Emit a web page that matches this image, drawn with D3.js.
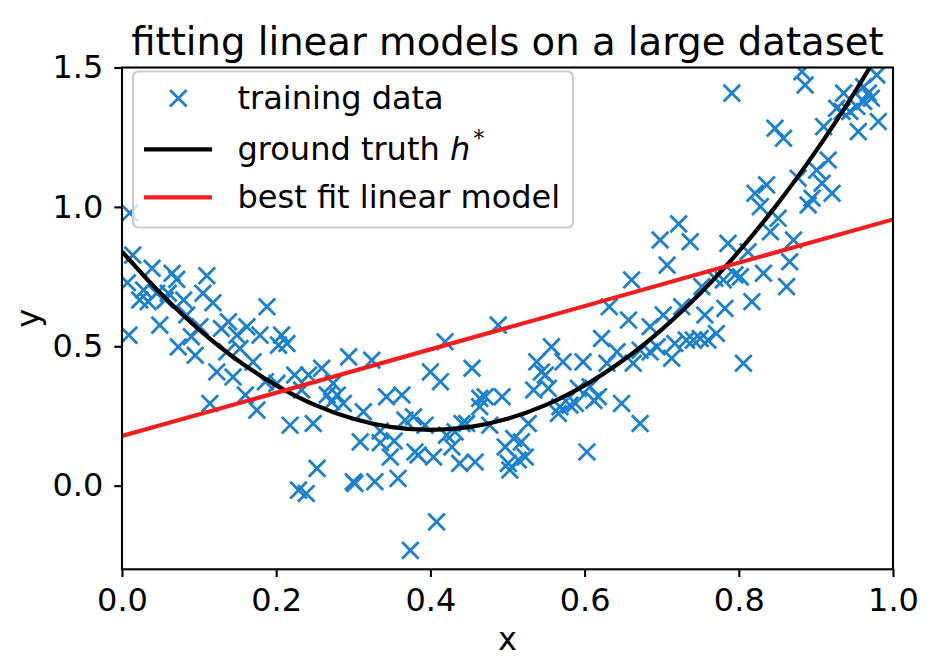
<!DOCTYPE html>
<html><head><meta charset="utf-8">
<script src="https://cdn.jsdelivr.net/npm/d3@7"></script>
<style>body{margin:0;background:#fff} svg{display:block;font-family:"DejaVu Sans",sans-serif}</style>
</head><body><svg id="c" width="932" height="670"></svg>
<script>
const trainX=[0.014,0.039,0.065,0.071,0.110,0.007,0.028,0.023,0.034,0.045,0.056,0.060,0.080,0.105,0.118,0.084,0.049,0.101,0.090,0.009,
0.188,0.138,0.129,0.149,0.162,0.179,0.207,0.214,0.203,0.073,0.095,0.153,0.136,0.170,0.123,0.144,0.186,0.201,0.224,0.242,
0.259,0.294,0.324,0.160,0.114,0.175,0.233,0.274,0.266,0.279,0.287,0.272,0.313,0.218,0.248,0.343,0.363,0.335,0.335,0.353,
0.348,0.367,0.378,0.380,0.384,0.309,0.253,0.229,0.239,0.300,0.302,0.328,0.358,0.374,0.419,0.488,0.632,0.657,0.622,0.557,
0.538,0.572,0.598,0.629,0.642,0.663,0.544,0.549,0.454,0.400,0.413,0.464,0.471,0.493,0.534,0.553,0.592,0.607,0.618,0.612,
0.464,0.568,0.581,0.588,0.566,0.648,0.672,0.393,0.441,0.447,0.477,0.527,0.421,0.432,0.428,0.497,0.508,0.518,0.404,0.438,
0.458,0.501,0.514,0.523,0.503,0.603,0.408,0.672,0.722,0.698,0.737,0.786,0.812,0.841,0.871,0.866,0.707,0.661,0.769,0.780,
0.795,0.802,0.832,0.752,0.862,0.817,0.782,0.756,0.726,0.702,0.685,0.771,0.760,0.750,0.741,0.732,0.717,0.694,0.685,0.713,
0.806,0.882,0.886,0.791,0.936,0.962,0.979,0.968,0.972,0.927,0.934,0.944,0.953,0.962,0.981,0.955,0.910,0.847,0.858,0.916,
0.901,0.877,0.908,0.921,0.895,0.890,0.836,0.821,0.828,0.851,0.010];
const trainY=[0.827,0.780,0.762,0.740,0.753,0.728,0.702,0.666,0.660,0.690,0.666,0.690,0.666,0.690,0.656,0.612,0.576,0.570,0.534,0.540,
0.642,0.588,0.564,0.540,0.570,0.540,0.540,0.510,0.504,0.498,0.468,0.492,0.480,0.444,0.408,0.390,0.373,0.367,0.397,0.397,
0.421,0.462,0.450,0.325,0.295,0.271,0.343,0.367,0.325,0.325,0.295,0.301,0.265,0.217,0.223,0.319,0.325,0.196,0.154,0.160,
0.103,0.235,0.247,0.121,0.110,0.157,0.062,-0.016,-0.028,0.014,0.008,0.014,0.026,-0.232,0.516,0.576,0.642,0.594,0.528,0.498,
0.444,0.444,0.444,0.439,0.480,0.439,0.408,0.397,0.421,0.408,0.373,0.313,0.319,0.319,0.343,0.349,0.349,0.355,0.319,0.306,
0.283,0.283,0.289,0.295,0.259,0.295,0.223,0.217,0.223,0.223,0.217,0.223,0.181,0.193,0.139,0.139,0.169,0.157,0.103,0.080,
0.085,0.080,0.092,0.103,0.056,0.121,-0.130,0.486,0.939,0.881,0.875,0.869,0.839,0.911,0.881,0.803,0.791,0.738,0.744,0.738,
0.756,0.749,0.762,0.714,0.714,0.660,0.636,0.612,0.642,0.612,0.570,0.546,0.522,0.528,0.522,0.522,0.510,0.498,0.480,0.457,
0.439,1.485,1.437,1.408,1.408,1.431,1.473,1.408,1.390,1.354,1.342,1.342,1.360,1.378,1.306,1.270,1.288,1.282,1.246,1.168,
1.132,1.103,1.085,1.049,1.031,1.007,1.079,1.049,1.001,0.959,0.978];
const curveX=[0,0.05,0.1,0.15,0.2,0.25,0.3,0.35,0.4,0.45,0.5,0.55,0.6,0.65,0.7,0.75,0.8,0.85,0.9,0.95,1.0];
const curveY=[0.84,0.69,0.56,0.45,0.36,0.29,0.24,0.21,0.20,0.21,0.24,0.29,0.36,0.45,0.56,0.69,0.84,1.01,1.20,1.41,1.64];
const fitX=[0,1];
const fitY=[0.178,0.955];
const xTicks=[0,0.2,0.4,0.6,0.8,1.0];
const yTicks=[0,0.5,1.0,1.5];
const xDomain=[0,1];
const yDomain=[-0.3,1.5];
const titleText="fitting linear models on a large dataset";
const legendLabels=["training data","ground truth ","best fit linear model"];

const svg=d3.select("#c");
const L=122,R=893,T=67.5,B=569.3;
const x=d3.scaleLinear().domain(xDomain).range([L,R]);
const y=d3.scaleLinear().domain(yDomain).range([B,T]);
const blue="#1a80cf", red="#f41e1e";
const fs=32;

svg.append("defs").append("clipPath").attr("id","clip")
  .append("rect").attr("x",L).attr("y",T).attr("width",R-L).attr("height",B-T);

const plot=svg.append("g").attr("clip-path","url(#clip)");
const ms=8.3;
const xPath=`M${-ms},${-ms}L${ms},${ms}M${-ms},${ms}L${ms},${-ms}`;
plot.selectAll("path.pt").data(trainX.map((v,i)=>[v,trainY[i]])).join("path")
  .attr("class","pt").attr("d",xPath)
  .attr("transform",d=>`translate(${x(d[0])},${y(d[1])})`)
  .attr("stroke",blue).attr("stroke-width",2.8).attr("fill","none");

plot.append("path").datum(curveX.map((v,i)=>[v,curveY[i]]))
  .attr("d",d3.line().x(d=>x(d[0])).y(d=>y(d[1])).curve(d3.curveCatmullRom))
  .attr("fill","none").attr("stroke","#000").attr("stroke-width",4.2);
plot.append("path").datum(fitX.map((v,i)=>[v,fitY[i]]))
  .attr("d",d3.line().x(d=>x(d[0])).y(d=>y(d[1])))
  .attr("fill","none").attr("stroke",red).attr("stroke-width",4.2);

// axes
const gx=svg.append("g").attr("transform",`translate(0,${B})`)
  .call(d3.axisBottom(x).tickValues(xTicks).tickFormat(d3.format(".1f")).tickSize(7.7).tickPadding(11.3));
const gy=svg.append("g").attr("transform",`translate(${L},0)`)
  .call(d3.axisLeft(y).tickValues(yTicks).tickFormat(d3.format(".1f")).tickSize(7.7).tickPadding(11));
[gx,gy].forEach(g=>{
  g.select(".domain").remove();
  g.selectAll(".tick line").attr("stroke","#000").attr("stroke-width",2.1);
  g.selectAll(".tick text").attr("fill","#000").style("font-size",fs+"px").style("font-family","DejaVu Sans");
});
svg.append("rect").attr("x",L).attr("y",T).attr("width",R-L).attr("height",B-T)
  .attr("fill","none").attr("stroke","#000").attr("stroke-width",2.1);

// labels
svg.append("text").attr("x",(L+R)/2).attr("y",650).attr("text-anchor","middle")
  .style("font-size",fs+"px").text("x");
svg.append("text").attr("transform",`translate(39,${(T+B)/2}) rotate(-90)`).attr("text-anchor","middle")
  .style("font-size",fs+"px").text("y");
svg.append("text").attr("x",(L+R)/2).attr("y",55).attr("text-anchor","middle")
  .style("font-size","38.6px").text(titleText);

// legend
const lg=svg.append("g");
lg.append("rect").attr("x",133).attr("y",71.5).attr("width",440).attr("height",156).attr("rx",5.5)
  .attr("fill","#fff").attr("fill-opacity",0.8).attr("stroke","#ccc").attr("stroke-width",2.2);
const rows=[98.3,149.3,197.3];
lg.append("path").attr("d",xPath).attr("transform",`translate(178.3,${rows[0]})`)
  .attr("stroke",blue).attr("stroke-width",2.8).attr("fill","none");
lg.append("line").attr("x1",144).attr("x2",212).attr("y1",rows[1]).attr("y2",rows[1]).attr("stroke","#000").attr("stroke-width",4.2);
lg.append("line").attr("x1",144).attr("x2",212).attr("y1",rows[2]).attr("y2",rows[2]).attr("stroke",red).attr("stroke-width",4.2);
legendLabels.forEach((t,i)=>{
  const tx=lg.append("text").attr("x",237.5).attr("y",rows[i]+11).style("font-size",fs+"px").text(t);
  if(i===1){
    tx.append("tspan").style("font-style","italic").text("h");
    tx.append("tspan").attr("dy",-14).attr("dx",3).style("font-size","22.5px").text("*");
  }
});
</script></body></html>
